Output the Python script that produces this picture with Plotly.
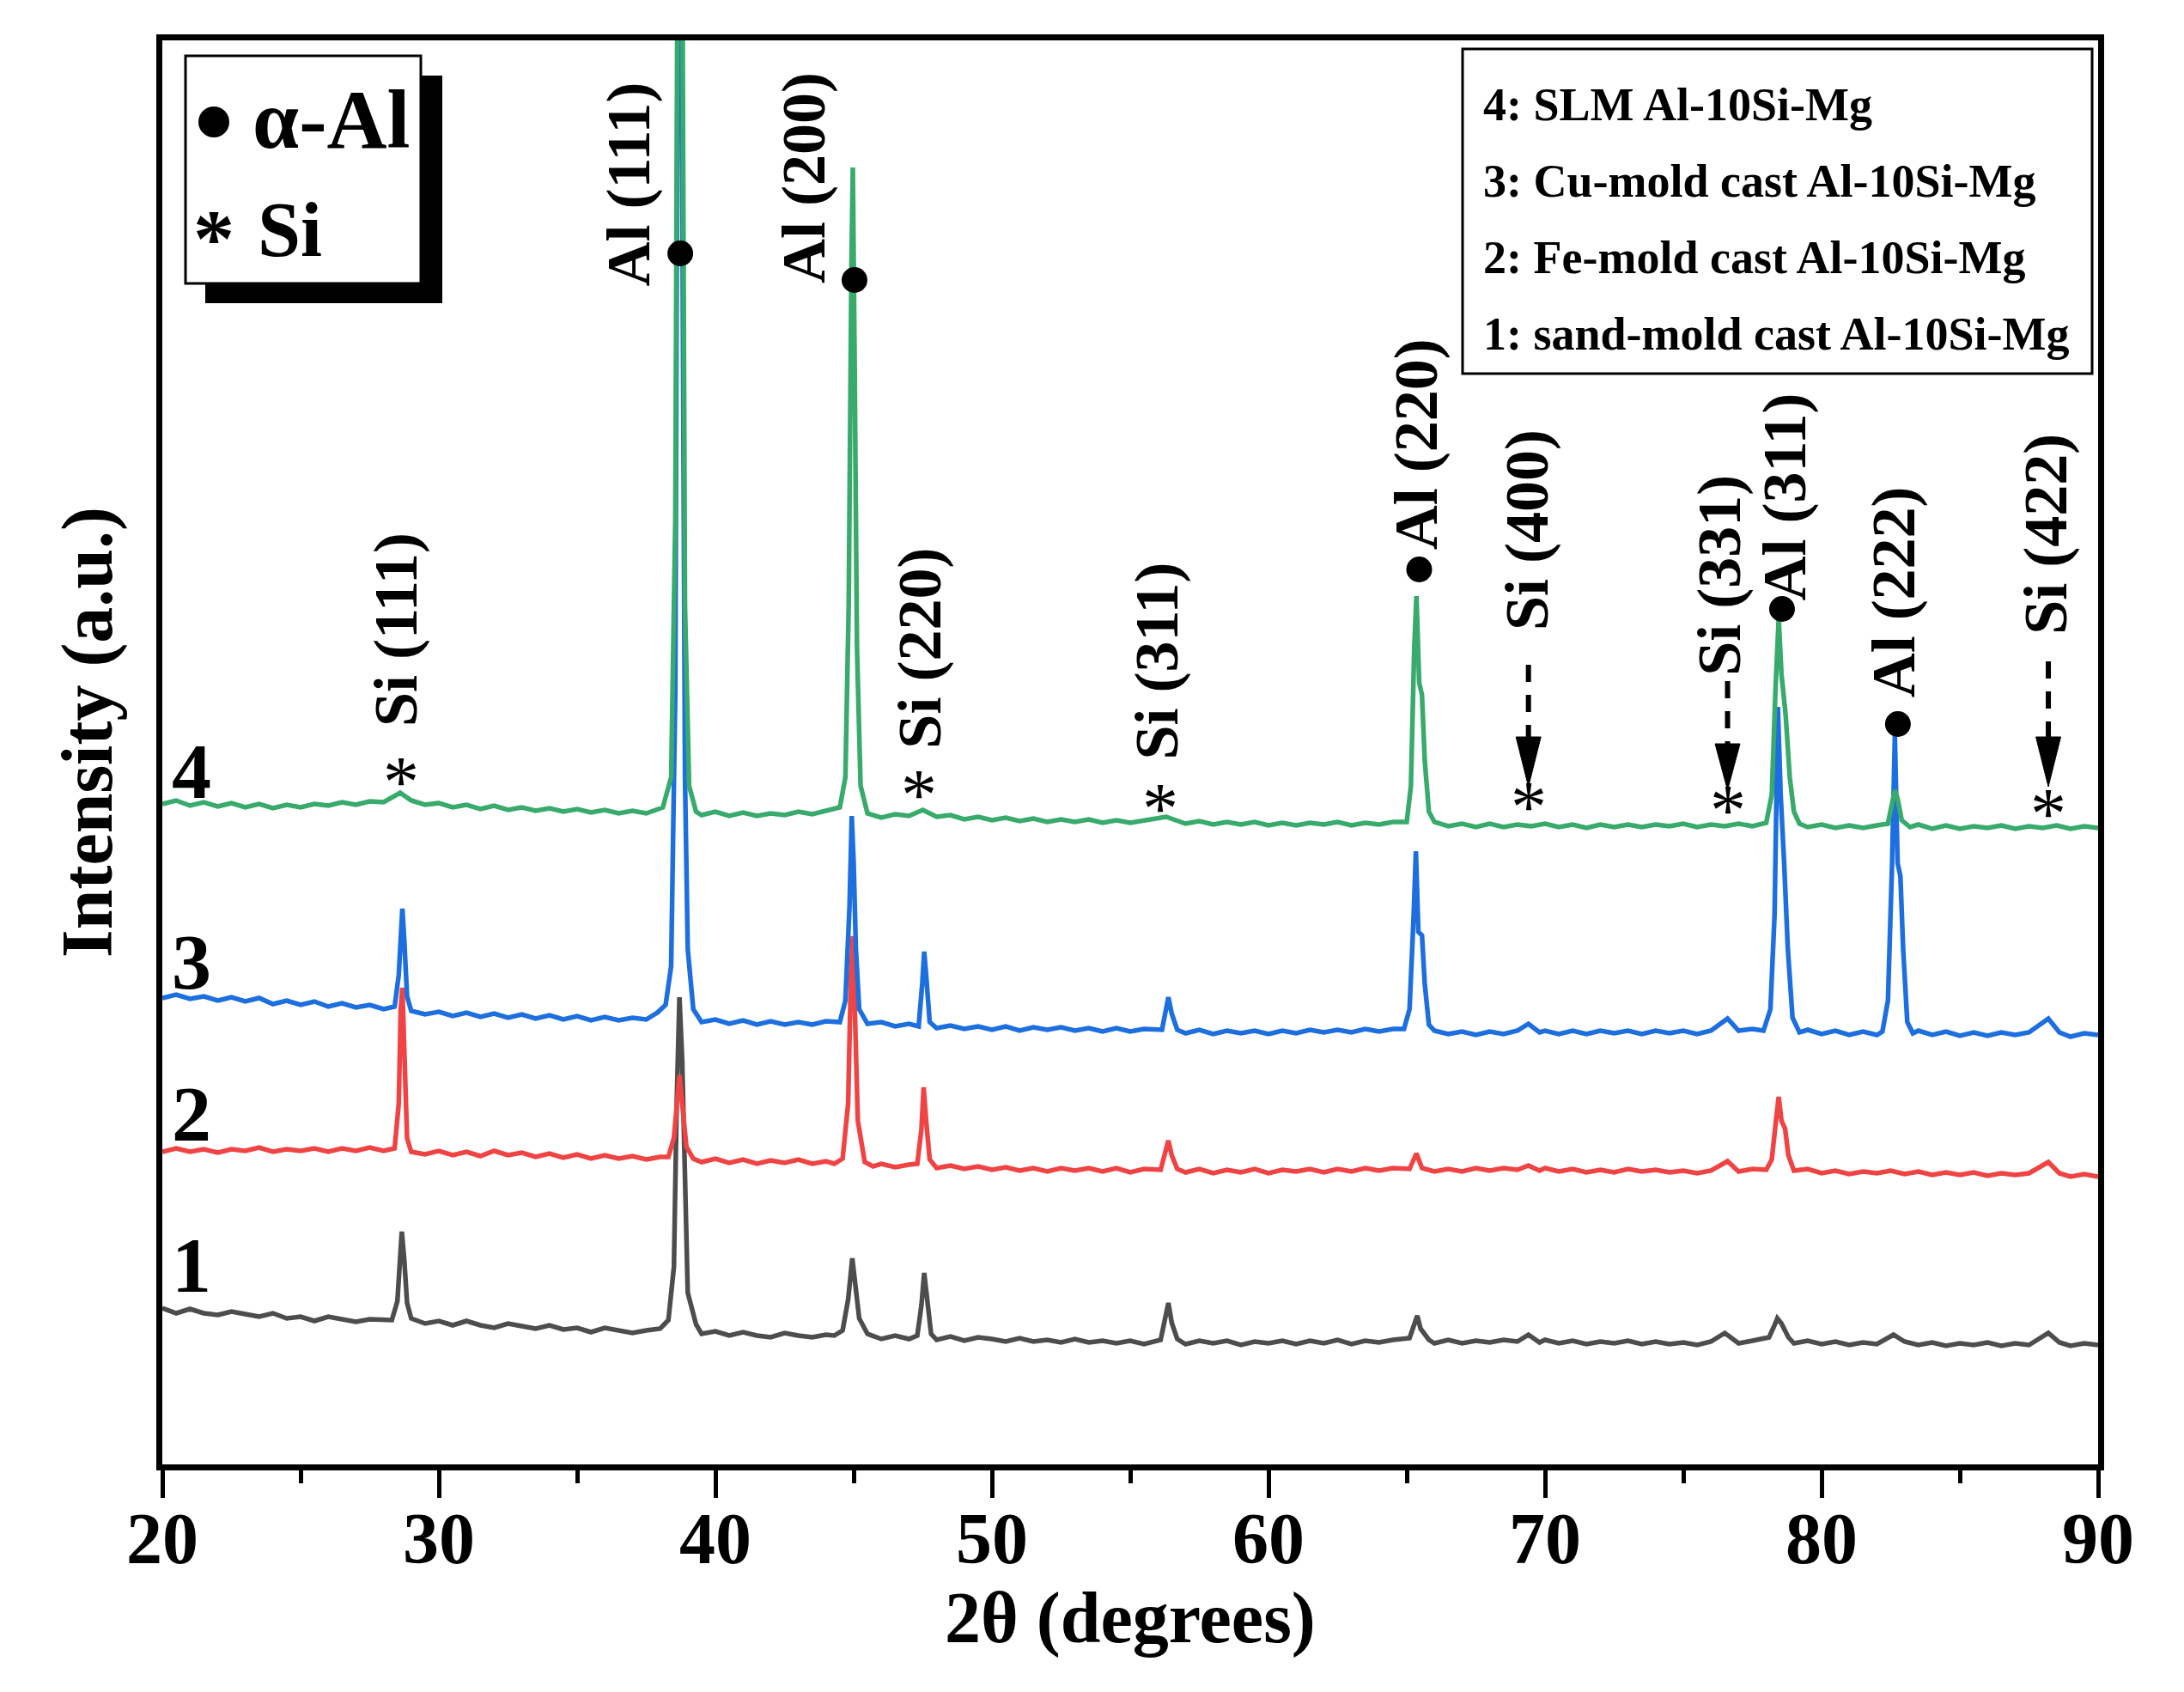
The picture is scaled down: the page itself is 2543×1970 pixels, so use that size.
import plotly.graph_objects as go

# ---------------- data (2theta in degrees, intensity in a.u.) ----------------
gray_pts = [(20.0,182),(20.5,176),(21.0,181),(21.5,176),(22.0,174),(22.5,178),(23.0,175),(23.5,172),(24.0,176),(24.5,170),(25.0,172),(25.5,167),(26.0,172),(26.5,169),(27.0,166),(27.5,169),(28.0,169),(28.3,168),(28.5,190),(28.6,250),(28.66,271),(28.75,238),(28.85,188),(29.0,170),(29.5,164),(30.0,167),(30.5,162),(31.0,167),(31.5,162),(32.0,159),(32.5,164),(33.0,161),(33.5,158),(34.0,162),(34.5,157),(35.0,159),(35.5,154),(36.0,159),(36.5,156),(37.0,153),(37.5,156),(38.0,158),(38.3,168),(38.5,230),(38.6,420),(38.7,544),(38.8,470),(38.9,300),(39.0,200),(39.3,163),(39.5,152),(40.0,155),(40.5,150),(41.0,154),(41.5,150),(42.0,148),(42.5,153),(43.0,150),(43.5,148),(44.0,151),(44.3,150),(44.6,156),(44.8,192),(44.95,240),(45.05,214),(45.2,170),(45.5,152),(46.0,146),(46.5,150),(47.0,146),(47.3,150),(47.45,185),(47.55,223),(47.65,190),(47.8,152),(48.0,145),(48.5,149),(49.0,144),(49.5,148),(50.0,146),(50.5,143),(51.0,147),(51.5,143),(52.0,145),(52.5,142),(53.0,146),(53.5,142),(54.0,144),(54.5,141),(55.0,144),(55.5,140),(56.1,145),(56.3,180),(56.38,188),(56.5,165),(56.7,146),(57.0,140),(57.5,144),(58.0,141),(58.5,144),(59.0,139),(59.5,143),(60.0,141),(60.5,144),(61.0,140),(61.5,144),(62.0,141),(62.5,145),(63.0,140),(63.5,144),(64.0,142),(64.5,145),(65.1,147),(65.3,168),(65.38,173),(65.5,158),(65.8,145),(66.0,141),(66.5,145),(67.0,141),(67.5,144),(68.0,142),(68.5,145),(69.0,143),(69.4,151),(69.8,142),(70.0,145),(70.5,141),(71.0,144),(71.5,140),(72.0,143),(72.5,141),(73.0,144),(73.5,140),(74.0,143),(74.5,140),(75.0,142),(75.5,139),(76.0,143),(76.5,153),(76.8,146),(77.0,141),(77.5,144),(78.1,148),(78.3,162),(78.4,170),(78.55,164),(78.8,148),(79.0,141),(79.5,144),(80.0,140),(80.5,143),(81.0,139),(81.5,142),(82.0,140),(82.6,151),(83.0,143),(83.5,139),(84.0,142),(84.5,138),(85.0,141),(85.5,139),(86.0,142),(86.5,138),(87.0,141),(87.5,139),(88.2,153),(88.6,142),(89.0,138),(89.5,141),(90.0,139)]

red_pts = [(20.0,364),(20.5,368),(21.0,364),(21.5,367),(22.0,363),(22.5,367),(23.0,365),(23.5,369),(24.0,364),(24.5,367),(25.0,365),(25.5,368),(26.0,364),(26.5,368),(27.0,365),(27.5,369),(28.0,365),(28.4,368),(28.55,420),(28.62,530),(28.68,555),(28.75,480),(28.85,380),(29.0,364),(29.5,361),(30.0,365),(30.5,360),(31.0,364),(31.5,359),(32.0,365),(32.5,360),(33.0,363),(33.5,358),(34.0,362),(34.5,357),(35.0,361),(35.5,356),(36.0,360),(36.5,356),(37.0,359),(37.5,355),(38.0,358),(38.3,358),(38.5,380),(38.62,430),(38.7,453),(38.8,420),(38.95,370),(39.2,356),(39.5,352),(40.0,356),(40.5,351),(41.0,355),(41.5,350),(42.0,354),(42.5,351),(43.0,355),(43.5,350),(44.0,353),(44.3,350),(44.6,356),(44.8,420),(44.9,570),(44.97,615),(45.05,520),(45.15,400),(45.4,352),(45.7,347),(46.0,350),(46.5,346),(47.0,349),(47.3,350),(47.45,390),(47.53,439),(47.62,400),(47.75,355),(48.0,345),(48.5,348),(49.0,344),(49.5,347),(50.0,343),(50.5,346),(51.0,342),(51.5,345),(52.0,341),(52.5,345),(53.0,342),(53.5,345),(54.0,341),(54.5,345),(55.0,340),(55.5,344),(56.1,343),(56.3,370),(56.38,377),(56.5,360),(56.7,344),(57.0,340),(57.5,344),(58.0,339),(58.5,343),(59.0,340),(59.5,344),(60.0,339),(60.5,343),(61.0,341),(61.5,344),(62.0,340),(62.5,344),(63.0,341),(63.5,345),(64.0,342),(64.5,345),(65.1,344),(65.35,362),(65.55,345),(66.0,341),(66.5,344),(67.0,341),(67.5,345),(68.0,342),(68.5,345),(69.0,343),(69.4,348),(69.8,342),(70.0,345),(70.5,341),(71.0,344),(71.5,340),(72.0,343),(72.5,340),(73.0,344),(73.5,341),(74.0,343),(74.5,340),(75.0,342),(75.5,339),(76.0,342),(76.6,353),(77.0,341),(77.5,344),(78.0,343),(78.2,355),(78.35,400),(78.45,428),(78.55,400),(78.68,391),(78.8,360),(79.0,342),(79.5,344),(80.0,339),(80.5,342),(81.0,338),(81.5,341),(82.0,339),(82.5,342),(83.0,338),(83.5,341),(84.0,337),(84.5,340),(85.0,337),(85.5,340),(86.0,336),(86.5,339),(87.0,337),(87.5,339),(88.2,352),(88.6,339),(89.0,335),(89.5,338),(90.0,335)]

blue_pts = [(20.0,543),(20.5,547),(21.0,542),(21.5,545),(22.0,540),(22.5,544),(23.0,539),(23.5,543),(24.0,536),(24.5,540),(25.0,535),(25.5,539),(26.0,533),(26.5,537),(27.0,532),(27.5,535),(28.0,530),(28.4,533),(28.55,570),(28.62,630),(28.68,647),(28.75,610),(28.85,545),(29.0,528),(29.5,524),(30.0,527),(30.5,522),(31.0,526),(31.5,521),(32.0,525),(32.5,520),(33.0,524),(33.5,519),(34.0,523),(34.5,518),(35.0,522),(35.5,517),(36.0,521),(36.5,517),(37.0,520),(37.5,518),(37.9,526),(38.2,535),(38.4,580),(38.55,900),(38.65,1800),(38.72,2100),(38.8,1500),(38.9,800),(39.0,600),(39.2,530),(39.5,515),(40.0,518),(40.5,513),(41.0,517),(41.5,512),(42.0,516),(42.5,512),(43.0,515),(43.5,512),(44.0,516),(44.5,515),(44.7,540),(44.85,650),(44.93,755),(45.0,700),(45.08,600),(45.2,530),(45.5,513),(46.0,515),(46.5,510),(47.0,513),(47.35,510),(47.48,560),(47.55,597),(47.62,570),(47.75,515),(48.0,508),(48.5,511),(49.0,507),(49.5,510),(50.0,506),(50.5,510),(51.0,505),(51.5,509),(52.0,506),(52.5,509),(53.0,505),(53.5,508),(54.0,504),(54.5,508),(55.0,504),(55.5,507),(56.15,506),(56.3,535),(56.38,544),(56.5,525),(56.7,506),(57.0,502),(57.5,506),(58.0,501),(58.5,505),(59.0,502),(59.5,505),(60.0,501),(60.5,505),(61.0,502),(61.5,506),(62.0,503),(62.5,506),(63.0,503),(63.5,507),(64.0,504),(64.5,507),(64.9,507),(65.1,530),(65.25,640),(65.33,714),(65.42,620),(65.55,616),(65.65,560),(65.8,512),(66.0,505),(66.5,501),(67.0,504),(67.5,500),(68.0,504),(68.5,501),(69.0,505),(69.4,513),(69.8,503),(70.0,505),(70.5,501),(71.0,505),(71.5,501),(72.0,505),(72.5,502),(73.0,505),(73.5,501),(74.0,505),(74.5,502),(75.0,505),(75.5,501),(76.0,505),(76.6,519),(77.0,505),(77.5,507),(77.9,505),(78.15,530),(78.3,640),(78.42,882),(78.52,780),(78.65,698),(78.78,600),(78.95,520),(79.2,503),(79.5,506),(80.0,501),(80.5,505),(81.0,500),(81.5,504),(82.0,500),(82.2,504),(82.4,540),(82.55,700),(82.65,849),(82.75,700),(82.85,685),(82.95,600),(83.1,515),(83.3,502),(83.5,505),(84.0,500),(84.5,504),(85.0,499),(85.5,503),(86.0,499),(86.5,503),(87.0,500),(87.5,503),(88.2,519),(88.6,503),(89.0,498),(89.5,502),(90.0,500)]

green_pts = [(20.0,769),(20.5,773),(21.0,767),(21.5,771),(22.0,766),(22.5,770),(23.0,765),(23.5,769),(24.0,764),(24.5,768),(25.0,765),(25.5,769),(26.0,767),(26.5,771),(27.0,768),(27.5,772),(28.0,771),(28.6,782),(29.0,773),(29.5,768),(30.0,770),(30.5,765),(31.0,768),(31.5,763),(32.0,767),(32.5,762),(33.0,765),(33.5,761),(34.0,764),(34.5,760),(35.0,763),(35.5,759),(36.0,762),(36.5,758),(37.0,761),(37.5,758),(38.1,765),(38.4,800),(38.55,1100),(38.65,2000),(38.72,2500),(38.8,1800),(38.9,1000),(39.05,790),(39.3,760),(39.5,756),(40.0,760),(40.5,755),(41.0,759),(41.5,755),(42.0,758),(42.5,756),(43.0,760),(43.5,757),(44.0,761),(44.5,765),(44.7,800),(44.82,1000),(44.92,1400),(44.97,1510),(45.03,1300),(45.12,950),(45.25,790),(45.5,758),(46.0,753),(46.5,757),(47.0,755),(47.5,762),(48.0,754),(48.5,756),(49.0,751),(49.5,754),(50.0,750),(50.5,753),(51.0,749),(51.5,752),(52.0,748),(52.5,751),(53.0,748),(53.5,751),(54.0,747),(54.5,750),(55.0,747),(55.5,750),(56.3,754),(57.0,746),(57.5,749),(58.0,745),(58.5,748),(59.0,745),(59.5,748),(60.0,744),(60.5,747),(61.0,744),(61.5,747),(62.0,745),(62.5,748),(63.0,744),(63.5,747),(64.0,745),(64.5,748),(65.0,748),(65.15,790),(65.27,950),(65.35,1011),(65.45,910),(65.55,896),(65.65,820),(65.8,760),(66.0,748),(66.5,743),(67.0,746),(67.5,742),(68.0,746),(68.5,742),(69.0,745),(69.5,743),(70.0,746),(70.5,742),(71.0,745),(71.5,741),(72.0,745),(72.5,742),(73.0,745),(73.5,742),(74.0,745),(74.5,743),(75.0,746),(75.5,742),(76.0,745),(76.5,743),(77.0,746),(77.5,743),(78.0,747),(78.2,780),(78.33,900),(78.45,985),(78.55,920),(78.7,873),(78.85,800),(79.0,760),(79.2,746),(79.5,742),(80.0,745),(80.5,741),(81.0,744),(81.5,741),(82.0,744),(82.4,746),(82.55,770),(82.65,785),(82.75,775),(82.9,750),(83.2,742),(83.5,745),(84.0,740),(84.5,744),(85.0,740),(85.5,743),(86.0,741),(86.5,744),(87.0,740),(87.5,743),(88.0,741),(88.5,744),(89.0,740),(89.5,743),(90.0,741)]

series_names = ["1: sand-mold cast Al-10Si-Mg", "2: Fe-mold cast Al-10Si-Mg",
                "3: Cu-mold cast Al-10Si-Mg", "4: SLM Al-10Si-Mg"]
series_numbers = ["1", "2", "3", "4"]
number_y = [232, 408, 585, 807]
series_colors = ["#4d4d4d", "#f04444", "#1d6fe0", "#38ab6c"]

al_dot_x = [38.73, 45.03, 65.45, 78.57, 82.76]
al_dot_y = [1410, 1379, 1042, 996, 862]
si_star_x = [28.63, 47.36, 56.09, 69.4, 76.6, 88.2]
si_star_y = [803, 788, 772, 774, 770, 766]

peak_labels = ["Al (111)", "Al (200)", "Si (111)", "Si (220)", "Si (311)", "Al (220)",
               "Si (400)", "Si (331)", "Al (311)", "Al (222)", "Si (422)"]
label_x = [36.85, 43.2, 28.45, 47.38, 55.95, 65.35, 69.35, 76.3, 78.65, 82.62, 88.1]
label_y = [1490, 1498, 972, 950, 935, 1188, 1088, 1035, 1126, 1016, 1083]

arrow_x = [69.4, 76.6, 88.2]
arrow_dash_top = [931, 912, 935]
arrow_head_top = [847, 839, 847]
arrow_tip = [789, 785, 789]

xtick_vals = [20, 30, 40, 50, 60, 70, 80, 90]
phase_legend = ["α-Al", "Si"]
x_title = "2θ (degrees)"
y_title = "Intensity (a.u.)"

# ---------------- figure ----------------
W, H = 2543, 1970
OFF = 8  # page body margin of the html
L, R, T, B = 189, 2443, 47, 1705  # plot edges in page pixels
FONT = "Liberation Serif, Times New Roman, serif"


def pxx(xp):
    return (xp - L) / (R - L)


def pxy(yp):
    return (B - yp) / (B - T)


fig = go.Figure()
for pts, col in zip([gray_pts, red_pts, blue_pts, green_pts], series_colors):
    fig.add_trace(go.Scatter(x=[p[0] for p in pts], y=[p[1] for p in pts], mode="lines",
                             line=dict(color=col, width=5.5), showlegend=False,
                             hoverinfo="skip"))

fig.add_trace(go.Scatter(x=al_dot_x, y=al_dot_y, mode="markers",
                         marker=dict(color="black", size=30), showlegend=False))

annotations = []
for t, x, y in zip(peak_labels, label_x, label_y):
    annotations.append(dict(x=x, y=y, xref="x", yref="y", text=t, showarrow=False,
                            textangle=-90, xanchor="center", yanchor="middle",
                            font=dict(family=FONT, size=72, color="black", weight="bold")))
for x, y in zip(si_star_x, si_star_y):
    annotations.append(dict(x=x, y=y, xref="x", yref="y", text="*", showarrow=False,
                            xanchor="center", yanchor="middle", yshift=-8,
                            font=dict(family=FONT, size=84, color="black")))
for t, y in zip(series_numbers, number_y):
    annotations.append(dict(x=21.05, y=y, xref="x", yref="y", text=t, showarrow=False,
                            xanchor="center", yanchor="middle",
                            font=dict(family=FONT, size=92, color="black", weight="bold")))

shapes = []
for x, yt, yh, ytip in zip(arrow_x, arrow_dash_top, arrow_head_top, arrow_tip):
    shapes.append(dict(type="line", xref="x", yref="y", x0=x, x1=x, y0=yt, y1=yh,
                       line=dict(color="black", width=6, dash="20px,15px")))
    shapes.append(dict(type="path", xref="x", yref="y",
                       path=f"M {x-0.45},{yh} L {x+0.45},{yh} L {x},{ytip} Z",
                       fillcolor="black", line=dict(color="black", width=1)))

# phase legend box with shadow
shapes.append(dict(type="rect", xref="paper", yref="paper", x0=pxx(239), x1=pxx(515),
                   y0=pxy(353), y1=pxy(88), fillcolor="black", line=dict(width=0)))
shapes.append(dict(type="rect", xref="paper", yref="paper", x0=pxx(216), x1=pxx(490),
                   y0=pxy(330), y1=pxy(65), fillcolor="white",
                   line=dict(color="black", width=3)))
shapes.append(dict(type="circle", xref="paper", yref="paper", x0=pxx(231), x1=pxx(267),
                   y0=pxy(160), y1=pxy(124), fillcolor="black", line=dict(width=0)))
annotations.append(dict(x=pxx(292), y=pxy(140), xref="paper", yref="paper",
                        text=phase_legend[0], showarrow=False, xanchor="left",
                        yanchor="middle",
                        font=dict(family=FONT, size=97, color="black", weight="bold")))
annotations.append(dict(x=pxx(249), y=pxy(267), xref="paper", yref="paper", text="*",
                        showarrow=False, xanchor="center", yanchor="middle", yshift=-10,
                        font=dict(family=FONT, size=96, color="black", weight="bold")))
annotations.append(dict(x=pxx(298), y=pxy(267), xref="paper", yref="paper",
                        text=phase_legend[1], showarrow=False, xanchor="left",
                        yanchor="middle",
                        font=dict(family=FONT, size=90, color="black", weight="bold")))

# sample legend box
shapes.append(dict(type="rect", xref="paper", yref="paper", x0=pxx(1703), x1=pxx(2436),
                   y0=pxy(435), y1=pxy(57), fillcolor="white",
                   line=dict(color="black", width=3), layer="below"))
legend_y = [389, 300, 211, 122]
for name, yp in zip(series_names, legend_y):
    annotations.append(dict(x=pxx(1725), y=pxy(yp), xref="paper", yref="paper", text=name,
                            showarrow=False, xanchor="left", yanchor="middle",
                            font=dict(family=FONT, size=54, color="black", weight="bold")))

# axis titles
annotations.append(dict(x=pxx(1316), y=pxy(1884), xref="paper", yref="paper", text=x_title,
                        showarrow=False, xanchor="center", yanchor="middle",
                        font=dict(family=FONT, size=84, color="black", weight="bold")))
annotations.append(dict(x=pxx(102), y=pxy(853), xref="paper", yref="paper", text=y_title,
                        showarrow=False, xanchor="center", yanchor="middle", textangle=-90,
                        font=dict(family=FONT, size=84, color="black", weight="bold")))

fig.update_layout(
    width=W, height=H,
    margin=dict(l=L - OFF, r=W - (R - OFF), t=T - OFF, b=H - (B - OFF)),
    paper_bgcolor="white", plot_bgcolor="white",
    font=dict(family=FONT, color="black"),
    showlegend=False,
    shapes=shapes, annotations=annotations,
    xaxis=dict(range=[20, 90], tickvals=xtick_vals, ticks="outside", ticklen=32,
               tickwidth=5, tickcolor="black", showgrid=False, zeroline=False,
               showline=True, linewidth=7, linecolor="black", mirror=True,
               ticklabelstandoff=-25, automargin=False,
               tickfont=dict(family=FONT, size=84, color="black", weight="bold"),
               minor=dict(dtick=5, ticks="outside", ticklen=15, tickwidth=5,
                          tickcolor="black", showgrid=False)),
    yaxis=dict(range=[0, 1658], showticklabels=False, ticks="", showgrid=False,
               zeroline=False, showline=True, linewidth=7, linecolor="black", mirror=True,
               automargin=False),
)

fig.write_html("out.html")
